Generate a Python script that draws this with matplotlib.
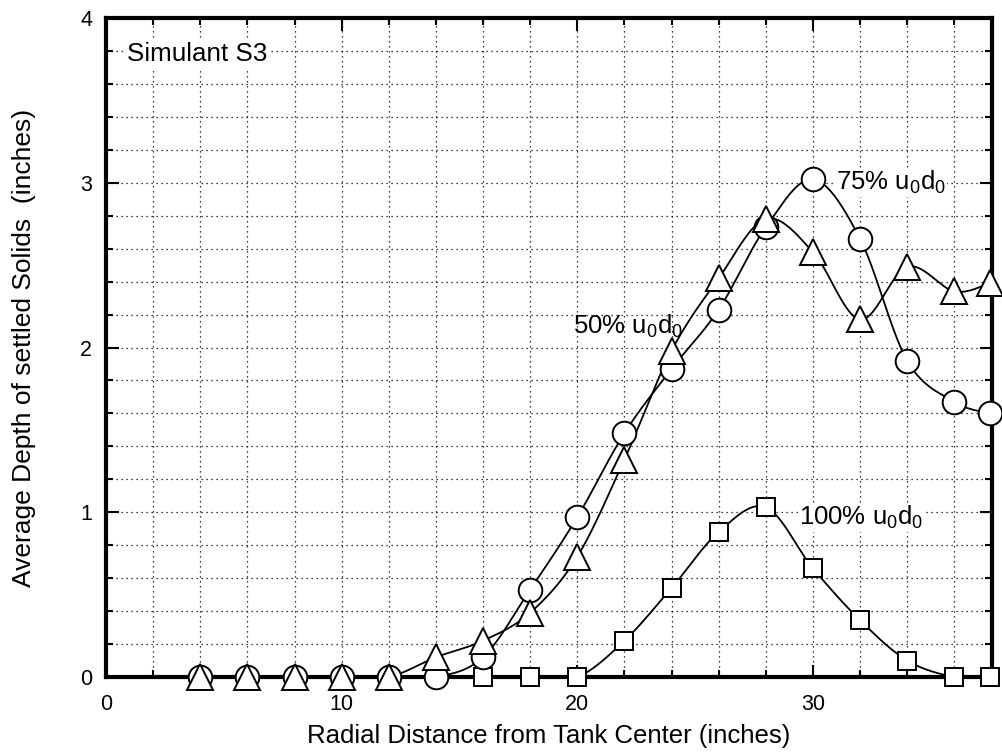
import numpy as np
import matplotlib.pyplot as plt
from matplotlib.ticker import MultipleLocator

plt.rcParams['font.family'] = ['Liberation Sans', 'DejaVu Sans']
plt.rcParams['mathtext.fontset'] = 'custom'
plt.rcParams['mathtext.rm'] = 'Liberation Sans'

# radial positions (inches)
radius = [4, 6, 8, 10, 12, 14, 16, 18, 20, 22, 24, 26, 28, 30, 32, 34, 36, 37.5]

# average depth of settled solids (inches) at each jet setting
depth_50 = [0, 0, 0, 0, 0, 0.12, 0.22, 0.39, 0.73, 1.32, 1.98, 2.42, 2.78,
            2.58, 2.17, 2.49, 2.34, 2.39]
depth_75 = [0, 0, 0, 0, 0, 0, 0.12, 0.53, 0.97, 1.48, 1.87, 2.23, 2.73,
            3.02, 2.66, 1.92, 1.67, 1.60]
radius_100 = [16, 18, 20, 22, 24, 26, 28, 30, 32, 34, 36, 37.5]
depth_100 = [0, 0, 0, 0.22, 0.54, 0.88, 1.03, 0.66, 0.345, 0.10, 0, 0]


def smooth(x, y, n=24):
    # catmull-rom curve through the measured points
    pts = np.column_stack([x, y]).astype(float)
    p = np.vstack([pts[0], pts, pts[-1]])
    t = np.linspace(0, 1, n, endpoint=False)[:, None]
    segs = []
    for i in range(1, len(p) - 2):
        p0, p1, p2, p3 = p[i - 1], p[i], p[i + 1], p[i + 2]
        segs.append(0.5 * (2 * p1 + (-p0 + p2) * t
                           + (2 * p0 - 5 * p1 + 4 * p2 - p3) * t ** 2
                           + (-p0 + 3 * p1 - 3 * p2 + p3) * t ** 3))
    segs.append(pts[-1:])
    c = np.vstack(segs)
    return c[:, 0], np.clip(c[:, 1], 0, None)


fig = plt.figure(figsize=(10.02, 7.52), dpi=100)
ax = fig.add_axes([106 / 1002, 75 / 752, 886 / 1002, 659 / 752])

mk = dict(color='black', markerfacecolor='white', markeredgecolor='black',
          markeredgewidth=1.4, linestyle='none', clip_on=False)

# squares first, then circles, triangles on top
for xs, ys, m, ms, z in [(radius_100, depth_100, 's', 13, 6),
                         (radius, depth_75, 'o', 17, 7),
                         (radius, depth_50, '^', 19, 8)]:
    sx, sy = smooth(xs, ys)
    ax.plot(sx, sy, color='black', lw=1.3, zorder=3)
    ax.plot(xs, ys, marker=m, markersize=ms, zorder=z, **mk)

ax.set_xlim(0, 37.6)
ax.set_ylim(0, 4)
ax.xaxis.set_major_locator(MultipleLocator(10))
ax.xaxis.set_minor_locator(MultipleLocator(2))
ax.yaxis.set_major_locator(MultipleLocator(1))
ax.yaxis.set_minor_locator(MultipleLocator(0.2))
ax.grid(True, which='both', color='black', linestyle=(0, (1, 3)), linewidth=0.9)
ax.tick_params(which='both', direction='in', top=True, right=True,
               labelsize=15.5, width=1.5)
ax.tick_params(axis='x', pad=12)
ax.tick_params(axis='y', pad=10)
ax.tick_params(which='major', length=9)
ax.tick_params(which='minor', length=5)
for s in ax.spines.values():
    s.set_linewidth(3)
    s.set_zorder(5)

ax.set_xlabel('Radial Distance from Tank Center (inches)', fontsize=18.5, labelpad=7)
ax.set_ylabel('Average Depth of settled Solids  (inches)', fontsize=19, labelpad=32)

ax.text(0.9, 3.78, 'Simulant S3', fontsize=18.7, va='center', ha='left',
        bbox=dict(facecolor='white', edgecolor='none', pad=1))
sub = r'u$_\mathregular{0}$d$_\mathregular{0}$'
ax.text(31.0, 3.0, '75% ' + sub, fontsize=18.5, va='center', ha='left',
        bbox=dict(facecolor='white', edgecolor='none', pad=0.5))
ax.text(19.8, 2.13, '50% ' + sub, fontsize=18.5, va='center', ha='left')
ax.text(29.4, 0.97, '100% ' + sub, fontsize=18.5, va='center', ha='left',
        bbox=dict(facecolor='white', edgecolor='none', pad=0.5))

fig.savefig('out.png', dpi=100)
